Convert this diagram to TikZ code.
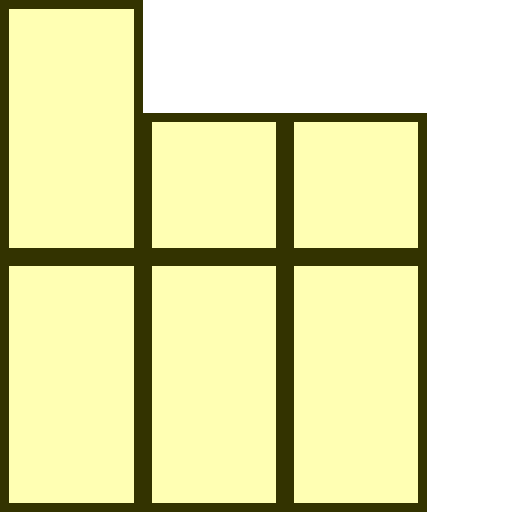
\documentclass[tikz,border=0pt]{standalone}
\usepackage{xcolor}
\definecolor{cellfill}{HTML}{FFFFB3}
\definecolor{celledge}{HTML}{333300}
\tikzset{every picture/.style={line width=0.75pt}}
\tikzset{cell/.style={draw=celledge,fill=cellfill,line width=6.75pt,line join=miter}}

\begin{document}
\begin{tikzpicture}[x=0.75pt,y=0.75pt,yscale=-1,xscale=1]
		\path[use as bounding box] (0,0) rectangle (512,512); %set diagram size 512 x 512

		%Shape: Rectangle [id:tall top left] 
		\draw [cell]  (4.5,4.5) -- (138.5,4.5) -- (138.5,252.5) -- (4.5,252.5) -- cycle ;
		%Shape: Rectangle [id:top middle] 
		\draw [cell]  (147,117.5) -- (280.5,117.5) -- (280.5,252.5) -- (147,252.5) -- cycle ;
		%Shape: Rectangle [id:top right] 
		\draw [cell]  (289,117.5) -- (422.5,117.5) -- (422.5,252.5) -- (289,252.5) -- cycle ;
		%Shape: Rectangle [id:bottom left] 
		\draw [cell]  (4.5,261.5) -- (138.5,261.5) -- (138.5,507.5) -- (4.5,507.5) -- cycle ;
		%Shape: Rectangle [id:bottom middle] 
		\draw [cell]  (147,261.5) -- (280.5,261.5) -- (280.5,507.5) -- (147,507.5) -- cycle ;
		%Shape: Rectangle [id:bottom right] 
		\draw [cell]  (289,261.5) -- (422.5,261.5) -- (422.5,507.5) -- (289,507.5) -- cycle ;

\end{tikzpicture}
\end{document}
